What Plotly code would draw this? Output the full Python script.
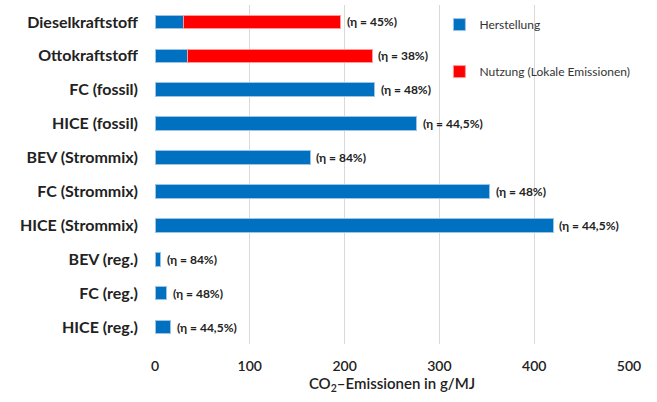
import plotly.graph_objects as go

categories = [
    "Dieselkraftstoff", "Ottokraftstoff", "FC (fossil)", "HICE (fossil)",
    "BEV (Strommix)", "FC (Strommix)", "HICE (Strommix)",
    "BEV (reg.)", "FC (reg.)", "HICE (reg.)",
]
herstellung = [30, 34.5, 232, 276, 163.5, 353, 420, 6, 12.5, 16.5]
nutzung = [166, 194.5, 0, 0, 0, 0, 0, 0, 0, 0]
wirkungsgrad = ["45%", "38%", "48%", "44,5%", "84%", "48%", "44,5%", "84%", "48%", "44,5%"]
x_ticks = [0, 100, 200, 300, 400, 500]

BLUE = "#0070c0"
RED = "#ff0000"
FONT = "Lato"

fig = go.Figure()
fig.add_trace(go.Bar(
    y=categories, x=herstellung, orientation="h", name="Herstellung",
    marker=dict(color=BLUE, line=dict(color="#9dc3e6", width=1)),
    legendgroup="a", width=0.4,
))
# only fuels with local emissions get a red segment
fig.add_trace(go.Bar(
    y=categories, x=[v if v else None for v in nutzung], orientation="h",
    name="Nutzung (Lokale Emissionen)",
    marker=dict(color=RED, line=dict(color="#ff9999", width=1)),
    legendgroup="b", width=0.4,
))

# efficiency labels at the end of each stacked bar
for cat, h, n, eta in zip(categories, herstellung, nutzung, wirkungsgrad):
    fig.add_annotation(
        x=h + n, y=cat, text=f"(η = {eta})", showarrow=False,
        xanchor="left", xshift=4,
        font=dict(family=FONT, size=12, color="#222", weight="bold"),
    )

fig.update_layout(
    barmode="stack",
    width=657, height=402,
    margin=dict(l=155, r=28, t=5, b=58, autoexpand=False),
    paper_bgcolor="white", plot_bgcolor="white",
    legend=dict(
        x=0.6, y=0.985, xanchor="left", yanchor="top",
        font=dict(family=FONT, size=12, color="#333"),
        bgcolor="rgba(0,0,0,0)", tracegroupgap=28,
        itemwidth=30, itemclick=False,
    ),
    xaxis=dict(
        range=[0, 500], tickvals=x_ticks,
        showgrid=True, gridcolor="#d9d9d9", gridwidth=1,
        zeroline=False, showline=False, ticks="",
        ticklabelstandoff=12,
        tickfont=dict(family=FONT, size=14, color="#222", weight=600),
        title=dict(text="CO<sub>2</sub>–Emissionen in g/MJ",
                   font=dict(family=FONT, size=15, color="#222", weight=600),
                   standoff=2),
    ),
    yaxis=dict(
        categoryorder="array", categoryarray=categories, autorange="reversed",
        showgrid=False, ticks="", showline=False,
        ticklabelstandoff=16,
        tickfont=dict(family=FONT, size=16, color="#222", weight="bold"),
    ),
)

fig.write_html("out.html")
